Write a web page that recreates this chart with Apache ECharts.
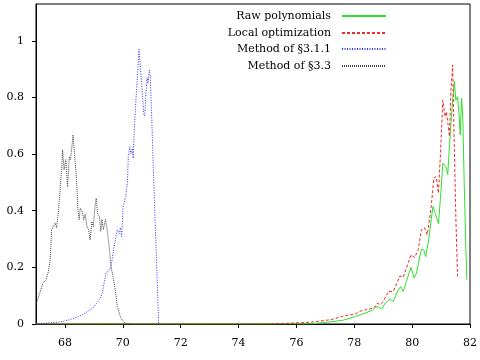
<!DOCTYPE html>
<html>
<head>
<meta charset="utf-8">
<script src="https://cdn.jsdelivr.net/npm/echarts@6/dist/echarts.min.js"></script>
<style>
html,body{margin:0;padding:0;background:#fff;}
#chart{width:480px;height:360px;}
</style>
</head>
<body>
<div id="chart"></div>
<script>
// ---- Data ----
var seriesNames = ['Raw polynomials', 'Local optimization', 'Method of §3.1.1', 'Method of §3.3'];
var xTicks = [68, 70, 72, 74, 76, 78, 80, 82];
var yTicks = [0, 0.2, 0.4, 0.6, 0.8, 1];

var rawX = [67, 76.46, 77.03, 77.60, 78.05, 78.39, 78.62, 78.73, 78.84, 78.95, 79.07, 79.24, 79.35, 79.52, 79.61, 79.69, 79.80, 79.96, 80.07, 80.15, 80.32, 80.40, 80.47, 80.57, 80.72, 80.80, 80.91, 81.00, 81.06, 81.17, 81.23, 81.31, 81.40, 81.46, 81.51, 81.57, 81.63, 81.66, 81.71, 81.75, 81.80, 81.86, 81.89];
var rawY = [0, 0, 0.006, 0.013, 0.027, 0.039, 0.048, 0.06, 0.06, 0.053, 0.074, 0.088, 0.08, 0.121, 0.132, 0.115, 0.15, 0.2, 0.162, 0.18, 0.265, 0.262, 0.238, 0.297, 0.415, 0.39, 0.354, 0.474, 0.568, 0.555, 0.527, 0.662, 0.79, 0.856, 0.79, 0.803, 0.73, 0.668, 0.797, 0.73, 0.497, 0.262, 0.156];

var locX = [67, 75.0, 75.32, 75.8, 76.46, 77.03, 77.3, 77.60, 77.85, 78.05, 78.2, 78.39, 78.62, 78.73, 78.79, 78.9, 79.01, 79.18, 79.24, 79.35, 79.58, 79.69, 79.86, 79.96, 80.09, 80.21, 80.32, 80.43, 80.52, 80.60, 80.66, 80.75, 80.83, 80.91, 80.98, 81.06, 81.14, 81.18, 81.23, 81.29, 81.34, 81.40, 81.46, 81.51, 81.57];
var locY = [0, 0, 0.001, 0.003, 0.006, 0.013, 0.018, 0.027, 0.032, 0.036, 0.045, 0.05, 0.055, 0.062, 0.073, 0.069, 0.08, 0.115, 0.121, 0.115, 0.17, 0.165, 0.215, 0.244, 0.235, 0.262, 0.333, 0.34, 0.315, 0.368, 0.415, 0.515, 0.52, 0.462, 0.603, 0.79, 0.732, 0.75, 0.715, 0.662, 0.826, 0.915, 0.615, 0.38, 0.168];

var m311X = [67.0, 67.49, 67.94, 68.28, 68.62, 68.96, 69.19, 69.25, 69.30, 69.42, 69.53, 69.59, 69.70, 69.81, 69.87, 69.92, 69.96, 70.01, 70.10, 70.16, 70.19, 70.24, 70.28, 70.33, 70.36, 70.38, 70.44, 70.52, 70.56, 70.61, 70.67, 70.72, 70.76, 70.80, 70.84, 70.87, 70.92, 70.95, 71.01, 71.06, 71.12, 71.18, 71.24];
var m311Y = [0, 0.004, 0.009, 0.019, 0.033, 0.056, 0.086, 0.097, 0.115, 0.18, 0.19, 0.2, 0.274, 0.333, 0.32, 0.34, 0.309, 0.415, 0.45, 0.50, 0.591, 0.626, 0.60, 0.62, 0.585, 0.65, 0.768, 0.897, 0.97, 0.905, 0.826, 0.744, 0.735, 0.815, 0.87, 0.85, 0.897, 0.875, 0.697, 0.533, 0.356, 0.18, 0];

var m33X = [67.0, 67.15, 67.24, 67.35, 67.43, 67.49, 67.54, 67.60, 67.66, 67.71, 67.77, 67.83, 67.89, 67.92, 67.97, 68.03, 68.09, 68.15, 68.19, 68.23, 68.28, 68.34, 68.40, 68.45, 68.49, 68.53, 68.60, 68.65, 68.70, 68.76, 68.82, 68.87, 68.93, 68.98, 69.04, 69.08, 69.13, 69.19, 69.24, 69.28, 69.33, 69.40, 69.46, 69.53, 69.59, 69.64, 69.74, 69.81, 69.93, 70.10, 70.3];
var m33Y = [0.07, 0.115, 0.145, 0.156, 0.186, 0.227, 0.333, 0.345, 0.357, 0.34, 0.393, 0.47, 0.556, 0.615, 0.544, 0.58, 0.485, 0.59, 0.58, 0.615, 0.668, 0.59, 0.51, 0.403, 0.368, 0.409, 0.397, 0.368, 0.388, 0.344, 0.333, 0.297, 0.362, 0.344, 0.415, 0.444, 0.39, 0.38, 0.327, 0.37, 0.333, 0.37, 0.333, 0.274, 0.203, 0.18, 0.121, 0.062, 0.021, 0.001, 0];

function pairs(xs, ys) { return xs.map(function (x, i) { return [x, ys[i]]; }); }

var FONT = 'DejaVu Serif';
var colors = ['#2ee02e', '#ee2a2a', '#3030f0', '#444444'];
var widths = [1, 1, 1, 1];
var dashes = ['solid', [3, 2], [1, 1.5], [1, 1]];
var datas = [pairs(rawX, rawY), pairs(locX, locY), pairs(m311X, m311Y), pairs(m33X, m33Y)];

var series = seriesNames.map(function (name, i) {
  return {
    name: name,
    type: 'line',
    data: datas[i],
    symbol: 'none',
    showSymbol: false,
    smooth: false,
    z: 2 + i,
    lineStyle: { color: colors[i], width: widths[i], type: dashes[i] },
    itemStyle: { color: colors[i] }
  };
});

var legendTops = [9, 26, 42, 59];
var legends = seriesNames.map(function (name, i) {
  return {
    data: [name],
    right: 93,
    top: legendTops[i],
    orient: 'horizontal',
    align: 'right',
    padding: 0,
    itemWidth: 44,
    itemHeight: 10,
    selectedMode: false,
    itemStyle: { opacity: 0 },
    textStyle: { fontFamily: FONT, fontSize: 11, color: '#000', padding: [0, 6, 0, 0], lineHeight: 14 }
  };
});

var chart = echarts.init(document.getElementById('chart'), null, { renderer: 'canvas' });
chart.setOption({
  animation: false,
  backgroundColor: '#fff',
  grid: { left: 36, right: 4, top: 4, bottom: 36, show: true, borderColor: '#000', borderWidth: 1, backgroundColor: 'transparent' },
  legend: legends,
  xAxis: {
    type: 'value',
    min: 67,
    max: 82,
    splitLine: { show: false },
    axisLine: { show: true, onZero: false, lineStyle: { color: '#000', width: 1 } },
    axisTick: { show: true, inside: false, length: 4, customValues: xTicks, lineStyle: { color: '#000' } },
    axisLabel: { customValues: xTicks, margin: 14, fontFamily: FONT, fontSize: 11, color: '#000', alignMaxLabel: 'center' }
  },
  yAxis: {
    type: 'value',
    min: 0,
    max: 1.13,
    splitLine: { show: false },
    axisLine: { show: true, lineStyle: { color: '#000', width: 1 } },
    axisTick: { show: true, inside: false, length: 4, customValues: yTicks, lineStyle: { color: '#000' } },
    axisLabel: { customValues: yTicks, margin: 12, fontFamily: FONT, fontSize: 11, color: '#000' }
  },
  series: series
});
</script>
</body>
</html>
